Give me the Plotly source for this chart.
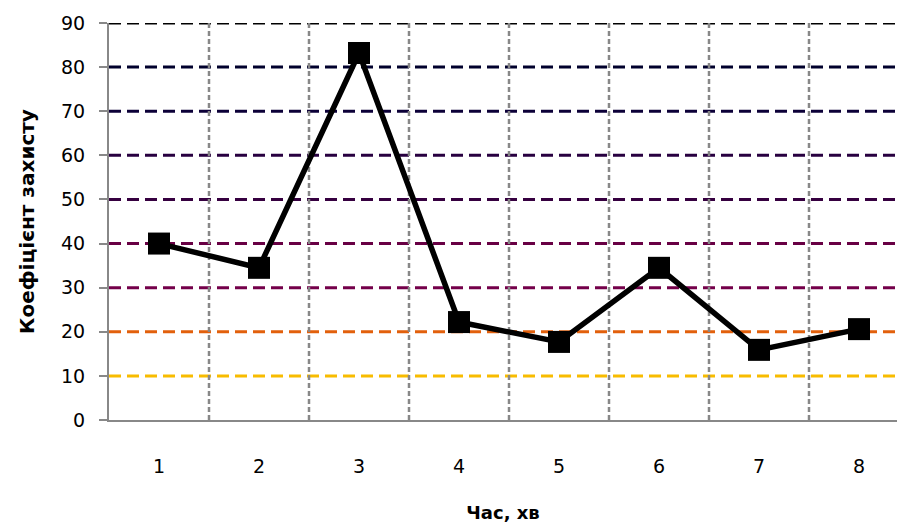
import plotly.graph_objects as go

categories = [1, 2, 3, 4, 5, 6, 7, 8]
values = [40, 34.5, 83.2, 22.2, 17.7, 34.5, 15.9, 20.6]
y_ticks = [0, 10, 20, 30, 40, 50, 60, 70, 80, 90]
grid_colors = {10: "#f8bc00", 20: "#e2600c", 30: "#74004a", 40: "#680044",
               50: "#360040", 60: "#280040", 70: "#0c0038", 80: "#00002c", 90: "#000000"}
x_title = "Час, хв"
y_title = "Коефіцієнт захисту"

fig = go.Figure()
fig.add_trace(go.Scatter(
    x=categories, y=values, mode="lines+markers",
    line=dict(color="black", width=5.5),
    marker=dict(symbol="square", size=22, color="black"),
    showlegend=False, cliponaxis=False))

shapes = []
for v in y_ticks[1:]:
    shapes.append(dict(type="line", xref="paper", x0=0, x1=1, yref="y", y0=v, y1=v,
                       line=dict(color=grid_colors[v], width=3, dash="12px,6px"), layer="below"))
for c in categories[:-1]:
    shapes.append(dict(type="line", xref="x", x0=c + 0.5, x1=c + 0.5, yref="paper", y0=0, y1=1,
                       line=dict(color="#888888", width=2.5, dash="5px,3px"), layer="below"))

fig.update_layout(
    width=897, height=525,
    margin=dict(l=109, r=0, t=23, b=105),
    paper_bgcolor="white", plot_bgcolor="white",
    shapes=shapes,
    font=dict(family="DejaVu Sans", size=19, color="black"),
    xaxis=dict(range=[0.5, 8.38], tickmode="array", tickvals=categories,
               ticktext=[str(c) for c in categories],
               showgrid=False, zeroline=False, showline=True, linecolor="#888888", linewidth=2,
               ticks="", ticklabelstandoff=28,
               title=dict(text="<b>" + x_title + "</b>", font=dict(size=18), standoff=31)),
    yaxis=dict(range=[0, 90], tickmode="array", tickvals=y_ticks,
               showgrid=False, zeroline=False, showline=True, linecolor="#888888", linewidth=2,
               ticks="outside", ticklen=8, tickcolor="#888888", tickwidth=2, ticklabelstandoff=10,
               title=dict(text="<b>" + y_title + "</b>", font=dict(size=20), standoff=21)),
)

fig.write_html("out.html", config={"displayModeBar": False},
               post_script="document.body.style.margin='0';document.body.style.overflow='hidden';")
